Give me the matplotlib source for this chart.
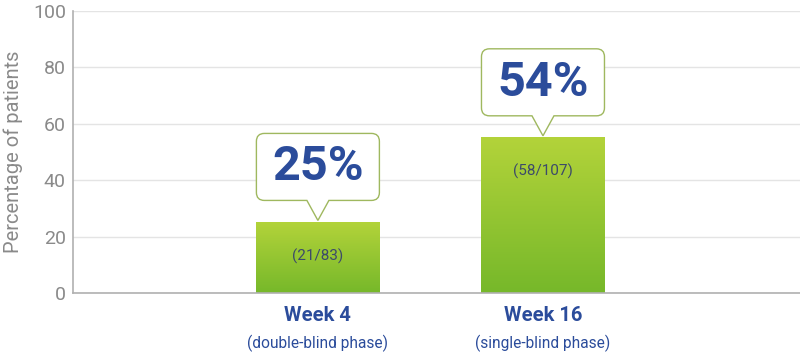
import matplotlib
matplotlib.use("Agg")
import matplotlib.pyplot as plt
import matplotlib.transforms as mtransforms
from matplotlib.path import Path
from matplotlib.patches import PathPatch
import numpy as np

plt.rcParams['font.family'] = ['Roboto', 'DejaVu Sans']

# Data
weeks = ["Week 4", "Week 16"]
phases = ["(double-blind phase)", "(single-blind phase)"]
bar_values = [25, 55]
callouts = ["25%", "54%"]
counts = ["(21/83)", "(58/107)"]

blue = "#2b4c9b"
grey = "#8a8a8a"

fig = plt.figure(figsize=(8, 3.63), dpi=100)
ax = fig.add_axes([0.091, 0.193, 0.909, 0.777])

x = np.arange(len(weeks))
width = 0.55
bars = ax.bar(x, bar_values, width=width, color="none", zorder=2)

# gradient fill for each bar
grad = np.linspace(0, 1, 256).reshape(-1, 1)
cmap = matplotlib.colors.LinearSegmentedColormap.from_list("g", ["#76b82a", "#b3d33a"])
for b in bars:
    x0, y0 = b.get_x(), b.get_y()
    ax.imshow(grad, cmap=cmap, origin="lower", aspect="auto",
              extent=[x0, x0 + b.get_width(), y0, y0 + b.get_height()], zorder=2)

ax.set_xlim(-1.089, 2.142)
ax.set_ylim(0, 100)
ax.set_yticks([0, 20, 40, 60, 80, 100])
ax.set_xticks([])
ax.yaxis.grid(True, color="#e4e4e4", linewidth=1)
ax.set_axisbelow(True)
for s in ["top", "right"]:
    ax.spines[s].set_visible(False)
for s in ["left", "bottom"]:
    ax.spines[s].set_color("#b0b0b0")
    ax.spines[s].set_linewidth(1.2)
ax.tick_params(axis="y", length=0, pad=5, labelsize=14, labelcolor=grey)

fig.text(0.016, 0.581, "Percentage of patients", rotation=90, ha="center", va="center",
         fontsize=14.5, color=grey)


def callout_path(w=123, h=67, gap=20, pw=11, r=8):
    # coordinates in pixels, tip at (0, 0)
    L, R, B, T = -w / 2, w / 2, gap, gap + h
    verts = [(0, 0), (pw, B), (R - r, B), (R, B), (R, B + r), (R, T - r), (R, T), (R - r, T),
             (L + r, T), (L, T), (L, T - r), (L, B + r), (L, B), (L + r, B), (-pw, B), (0, 0)]
    codes = [Path.MOVETO, Path.LINETO, Path.LINETO, Path.CURVE3, Path.CURVE3, Path.LINETO,
             Path.CURVE3, Path.CURVE3, Path.LINETO, Path.CURVE3, Path.CURVE3, Path.LINETO,
             Path.CURVE3, Path.CURVE3, Path.LINETO, Path.CLOSEPOLY]
    return Path(np.array(verts) / 100.0, codes)


for i, b in enumerate(bars):
    cx = b.get_x() + b.get_width() / 2
    top = b.get_height()
    tr = fig.dpi_scale_trans + mtransforms.ScaledTranslation(cx, top, ax.transData) \
        + mtransforms.Affine2D().translate(0, 2)
    patch = PathPatch(callout_path(), facecolor="white", edgecolor="#9fb85f", lw=1,
                      transform=tr, zorder=4, clip_on=False)
    ax.add_patch(patch)
    ax.annotate(callouts[i], xy=(cx, top), xytext=(0, 55 / 1.389), textcoords="offset points",
                ha="center", va="center", fontsize=35, fontweight="bold", color=blue, zorder=5)
    ax.text(cx, top - 12, counts[i], ha="center", va="center", fontsize=11,
            color="#3c4a6a", zorder=3)
    ax.annotate(weeks[i], xy=(cx, 0), xycoords=("data", "axes fraction"),
                xytext=(0, -16), textcoords="offset points", ha="center", va="center",
                fontsize=14.5, fontweight="bold", color=blue, annotation_clip=False)
    ax.annotate(phases[i], xy=(cx, 0), xycoords=("data", "axes fraction"),
                xytext=(0, -36.5), textcoords="offset points", ha="center", va="center",
                fontsize=11.2, color=blue, annotation_clip=False)

fig.savefig("out.png", dpi=100)
